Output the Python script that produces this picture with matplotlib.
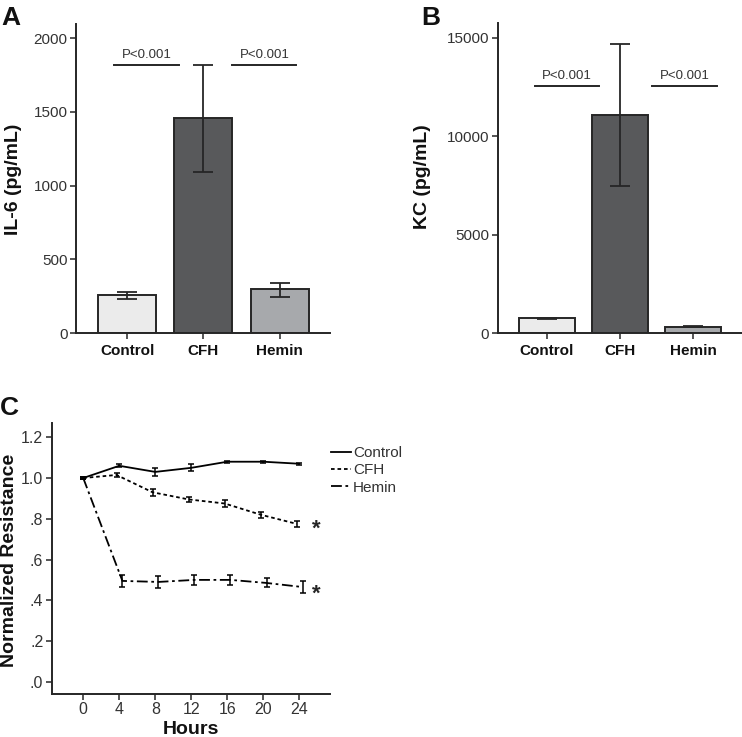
import numpy as np
import matplotlib
matplotlib.use('Agg')
import matplotlib.pyplot as plt

plt.rcParams['font.family'] = ['Liberation Sans', 'DejaVu Sans']

# Bar panels (A: IL-6, B: KC)
groups = ['Control', 'CFH', 'Hemin']
il6_mean = [255, 1455, 295]
il6_lo = [230, 1090, 247]
il6_hi = [280, 1815, 342]
kc_mean = [740, 11100, 330]
kc_lo = [700, 7490, 300]
kc_hi = [785, 14710, 370]
bar_colors = ['#ebebeb', '#58595b', '#a7a9ac']

# Panel C: normalized resistance over time
hours = [0, 4, 8, 12, 16, 20, 24]
ctrl_res = [1.0, 1.06, 1.03, 1.05, 1.08, 1.08, 1.07]
ctrl_err = [0.004, 0.008, 0.02, 0.018, 0.005, 0.004, 0.005]
cfh_res = [1.0, 1.015, 0.93, 0.895, 0.875, 0.82, 0.775]
cfh_err = [0.004, 0.01, 0.018, 0.012, 0.018, 0.015, 0.015]
hemin_res = [1.0, 0.495, 0.49, 0.50, 0.50, 0.485, 0.465]
hemin_err = [0.004, 0.028, 0.028, 0.025, 0.025, 0.022, 0.03]
c_yticks = [0.0, 0.2, 0.4, 0.6, 0.8, 1.0, 1.2]
c_yticklabels = ['.0', '.2', '.4', '.6', '.8', '1.0', '1.2']

ink = '#262626'
W, H = 742, 737

fig = plt.figure(figsize=(W / 100, H / 100), dpi=100)


def px(x0, y0, x1, y1):
    return [x0 / W, 1 - y1 / H, (x1 - x0) / W, (y1 - y0) / H]


def style(ax):
    for s in ['top', 'right']:
        ax.spines[s].set_visible(False)
    for s in ['left', 'bottom']:
        ax.spines[s].set_linewidth(1.4)
        ax.spines[s].set_color(ink)
    ax.tick_params(direction='out', length=4, width=1.1, color=ink,
                   labelcolor='#333333', labelsize=11, pad=2)


def bar_panel(ax, mean, lo, hi, ylim, yticks, plines):
    x = np.arange(len(groups))
    ax.bar(x, mean, width=0.76, color=bar_colors, edgecolor=ink, linewidth=1.4, zorder=2)
    err = [np.array(mean) - np.array(lo), np.array(hi) - np.array(mean)]
    ax.errorbar(x, mean, yerr=err, fmt='none', ecolor=ink, elinewidth=1.3,
                capsize=7, capthick=1.3, zorder=3)
    ax.set_xlim(-0.67, 2.66)
    ax.set_ylim(*ylim)
    ax.set_yticks(yticks)
    ax.set_xticks(x)
    ax.set_xticklabels(groups, fontweight='bold', fontsize=10)
    style(ax)
    ax.tick_params(axis='x', length=4, pad=4, labelcolor='#111111')
    for (x0, x1, y) in plines:
        ax.plot([x0, x1], [y, y], color=ink, lw=1.4, clip_on=False)
        ax.annotate('P<0.001', xy=((x0 + x1) / 2, y), xytext=(0, 3),
                    textcoords='offset points', ha='center', va='bottom',
                    fontsize=9.5, color='#333333')


axA = fig.add_axes(px(76, 24, 330, 333))
bar_panel(axA, il6_mean, il6_lo, il6_hi, (0, 2095), [0, 500, 1000, 1500, 2000],
          [(-0.17, 0.68, 1815), (1.38, 2.22, 1815)])

axB = fig.add_axes(px(497.7, 23, 741.5, 333))
bar_panel(axB, kc_mean, kc_lo, kc_hi, (0, 15760), [0, 5000, 10000, 15000],
          [(-0.16, 0.72, 12560), (1.44, 2.32, 12560)])

# Panel C
axC = fig.add_axes(px(51.7, 423, 330, 694))
series = [
    ('Control', ctrl_res, ctrl_err, '-', 0.0),
    ('CFH', cfh_res, cfh_err, (0, (2, 1.6)), -0.3),
    ('Hemin', hemin_res, hemin_err, (0, (6, 2, 1.5, 2)), 0.35),
]
handles = []
for name, vals, err, ls, off in series:
    xs = np.array(hours, dtype=float)
    xs[1:] += off
    ax_line, = axC.plot(xs, vals, color='black', lw=1.3, linestyle=ls, label=name)
    axC.errorbar(xs, vals, yerr=err, fmt='none', ecolor='black', elinewidth=1.1,
                 capsize=2.5, capthick=1.1)
    handles.append(ax_line)

axC.set_xlim(-3.5, 27.4)
axC.set_ylim(-0.06, 1.27)
axC.set_xticks(hours)
axC.set_yticks(c_yticks)
axC.set_yticklabels(c_yticklabels)
style(axC)
axC.tick_params(labelsize=11.5)
axC.text(25.9, 0.75, '*', fontsize=16, fontweight='bold', ha='center', va='center', color=ink)
axC.text(25.9, 0.43, '*', fontsize=16, fontweight='bold', ha='center', va='center', color=ink)

fig.legend(handles=handles, loc='upper left', bbox_to_anchor=(331 / W, 1 - 446 / H),
           frameon=False, fontsize=11, handlelength=1.3, handletextpad=0.15,
           labelspacing=0.22, borderpad=0, borderaxespad=0, labelcolor='#333333')

# axis labels
fig.text(14 / W, 1 - 179 / H, 'IL-6 (pg/mL)', rotation=90, ha='center', va='center',
         fontsize=14, fontweight='bold', color='#111111')
fig.text(422.5 / W, 1 - 177 / H, 'KC (pg/mL)', rotation=90, ha='center', va='center',
         fontsize=14, fontweight='bold', color='#111111')
fig.text(10 / W, 1 - 560 / H, 'Normalized Resistance', rotation=90, ha='center', va='center',
         fontsize=14, fontweight='bold', color='#111111')
fig.text(191 / W, 1 - 729 / H, 'Hours', ha='center', va='center',
         fontsize=14, fontweight='bold', color='#111111')

# panel letters
for lab, x, y in [('A', 1, 6), ('B', 421, 6), ('C', 0, 396)]:
    fig.text(x / W, 1 - y / H, lab, ha='left', va='top', fontsize=19,
             fontweight='bold', color='#111111')

fig.savefig('out.png', dpi=100)
